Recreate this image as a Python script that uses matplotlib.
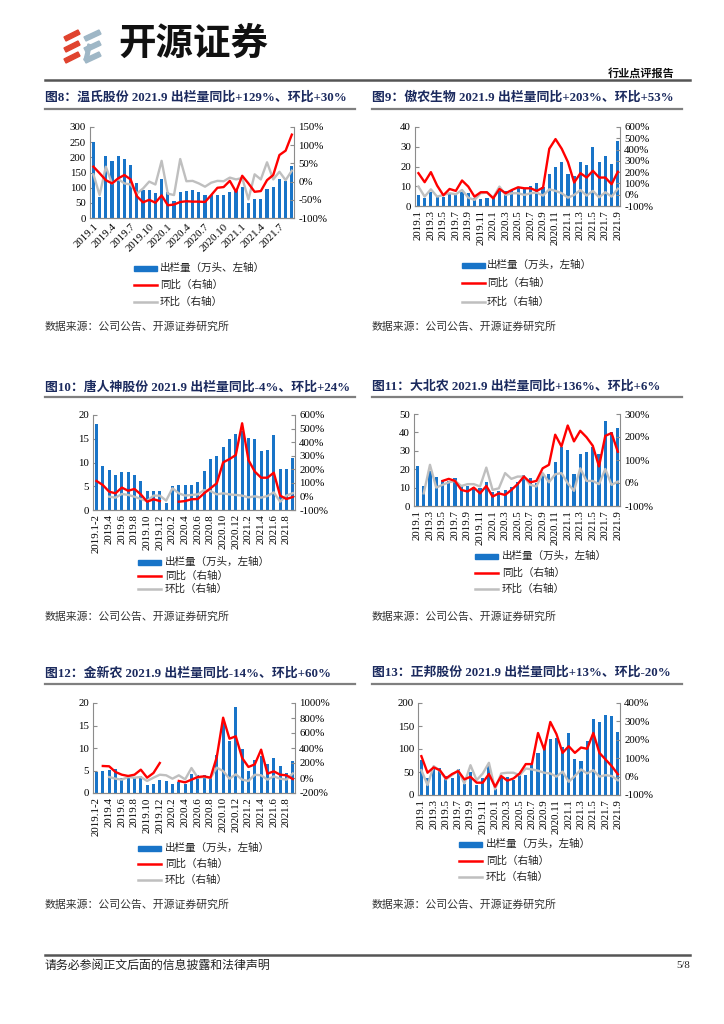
import numpy as np
import matplotlib
matplotlib.use("Agg")
import matplotlib.pyplot as plt
from matplotlib.patches import Rectangle, Polygon
from matplotlib.lines import Line2D

plt.rcParams['font.family'] = ['Liberation Serif', 'Noto Sans CJK SC']
plt.rcParams['axes.unicode_minus'] = False

W, H = 724, 1024
NAVY = '#1B2A5E'
BAR = '#1874C8'
RED = '#FF0000'
GRAY = '#BFBFBF'
AX = '#8C8C8C'
nan = np.nan

# ---------------- categories ----------------
MONTHS_33 = ['2019.1', '2019.2', '2019.3', '2019.4', '2019.5', '2019.6', '2019.7', '2019.8', '2019.9',
             '2019.10', '2019.11', '2019.12', '2020.1', '2020.2', '2020.3', '2020.4', '2020.5', '2020.6',
             '2020.7', '2020.8', '2020.9', '2020.10', '2020.11', '2020.12', '2021.1', '2021.2', '2021.3',
             '2021.4', '2021.5', '2021.6', '2021.7', '2021.8', '2021.9']
MONTHS_32 = ['2019.1-2', '2019.3', '2019.4', '2019.5', '2019.6', '2019.7', '2019.8', '2019.9',
             '2019.10', '2019.11', '2019.12', '2020.1', '2020.2', '2020.3', '2020.4', '2020.5', '2020.6',
             '2020.7', '2020.8', '2020.9', '2020.10', '2020.11', '2020.12', '2021.1', '2021.2', '2021.3',
             '2021.4', '2021.5', '2021.6', '2021.7', '2021.8', '2021.9']

# ---------------- 图8 温氏股份 ----------------
wens_out = [252, 70, 203, 188, 205, 196, 175, 116, 92, 92, 84, 128, 86, 55, 86, 88, 92, 86, 75, 75, 75,
            75, 86, 92, 102, 51, 61, 64, 94, 103, 128, 123, 172]
wens_yoy = [41, 23, 4, -5, 9, 18, 6, -40, -57, -50, -58, -38, -65, -63, -56, -54, -55, -55, -56, -37, -17,
            -15, 2, -28, 16, -5, -28, -26, 4, 18, 73, 85, 129]
wens_mom = [20, -37, 41, -5, 7, -5, -8, -33, -19, 0, -8, 57, -33, -37, 62, 1, 2, -5, -14, -3, 2, 1, 11, 6,
            10, -49, 20, 6, 53, 6, 27, 4, 30]
wens_ticks = ['2019.1', '2019.4', '2019.7', '2019.10', '2020.1', '2020.4', '2020.7', '2020.10',
              '2021.1', '2021.4', '2021.7']

# ---------------- 图9 傲农生物 ----------------
aonong_out = [5.6, 4.2, 7.0, 4.4, 4.7, 6.0, 6.1, 7.3, 6.4, 3.9, 3.4, 4.2, 4.6, 7.6, 7.6, 8.1, 9.0, 9.0,
              10.2, 11.5, 9.6, 16.0, 20.0, 22.2, 16.0, 15.0, 22.5, 20.8, 29.7, 22.2, 25.4, 21.4, 32.7]
aonong_yoy = [191, 111, 200, 81, -5, 51, 34, 126, 72, -17, 22, 22, -32, 51, 13, 42, 66, 57, 57, 34, 63,
              407, 493, 407, 289, 108, 191, 152, 212, 152, 152, 93, 203]
aonong_mom = [72, -17, 48, -17, -2, 13, 4, 42, -26, -46, 13, 19, -26, 72, -2, 13, 13, -2, 13, 19, -8,
              48, 34, 13, -26, -2, 42, -8, 34, -23, 22, -17, 53]
aonong_ticks = MONTHS_33[::2]

# ---------------- 图10 唐人神 ----------------
trs_out = [18.2, 9.2, 8.4, 7.4, 7.9, 8.1, 7.4, 6.1, 3.9, 4.1, 4.1, 1.5, 5.1, 5.3, 5.3, 5.3, 5.8, 8.2,
           10.7, 11.4, 13.3, 14.9, 16.1, 16.6, 15.2, 14.9, 12.5, 12.6, 15.8, 8.7, 8.7, 10.9]
trs_yoy = [114, 84, 35, 23, 65, 42, 55, 15, -39, -21, -34, nan, nan, -39, -34, -21, -19, 23, 60, 97,
           251, 275, 305, 539, 268, 183, 138, 138, 175, 6, -19, -4]
trs_mom = [nan, nan, -2, -9, 18, 11, -2, -19, -34, 6, 6, -31, 60, 23, 6, 11, 15, 47, 40, 15, 23, 15,
           11, 6, -7, 1, -9, 3, 30, -39, 6, 24]
trs_ticks = MONTHS_32[::2]

# ---------------- 图11 大北农 ----------------
dbn_out = [22, 11, 19, 15.5, 14, 13.5, 15, 11.5, 11, 10.5, 9.6, 12.9, 7.8, 8.2, 8.7, 10.2, 13.3, 16.9,
           15.1, 12.4, 16.9, 17.3, 23.8, 32, 30.5, 17.2, 28.2, 29.3, 32.2, 28.5, 46, 40, 42.5]
dbn_yoy = [nan, nan, nan, nan, 9, 18, 9, -30, -37, -20, -45, -13, -59, -45, -52, -30, -5, 28, 3, 9, 64,
           79, 210, 159, 250, 181, 227, 199, 162, 72, 205, 217, 136]
dbn_mom = [nan, -45, 79, -20, -8, 3, 9, -13, -5, -5, -15, 67, -30, -23, 43, 18, 28, 28, -8, -15, 43, 3,
           38, 43, -1, -34, 64, 9, 9, -5, 61, -8, 6]
dbn_ticks = MONTHS_33[::2]

# ---------------- 图12 金新农 ----------------
jxn_out = [4.7, 4.8, 5.2, 5.3, 3.4, 3.6, 3.4, 3.7, 1.7, 2.1, 2.8, 2.7, 1.9, 2.5, 1.9, 4.3, 3.9, 4.1,
           3.6, 8.4, 15.8, 11.5, 19.1, 9.7, 4.8, 7.3, 8.3, 6.5, 7.8, 5.9, 4.4, 7.1]
jxn_yoy = [nan, 160, 156, 80, 44, 27, 44, 111, 4, 67, 200, nan, nan, -40, -58, -22, 13, 22, 4, 280,
           804, 524, 556, 267, 147, 182, 378, 58, 89, 44, 36, -14]
jxn_mom = [nan, nan, 13, -9, -22, 13, 4, 13, -40, 4, 44, 36, -9, 36, -18, 133, 4, 13, 0, 138, 93, -9,
           49, -22, -40, 44, 36, -22, 22, -9, -22, 60]
jxn_ticks = MONTHS_32[::2]

# ---------------- 图13 正邦股份 ----------------
zb_out = [77, 36, 58, 58, 41, 36, 56, 25, 51, 22, 36, 65, 12, 36, 40, 33, 47, 43, 70, 92, 106, 121, 124,
          105, 134, 79, 74, 118, 166, 159, 173, 171, 137]
zb_yoy = [111, 21, 50, 35, -10, 14, 30, -15, -1, -33, -33, 14, -55, 3, -22, -10, 17, 68, 68, 237, 147,
          297, 231, 129, 165, 129, 158, 151, 237, 129, 93, 57, 13]
zb_mom = [35, -46, 57, 32, -15, 8, 35, -37, 62, -19, 17, 75, -69, 17, 21, 21, 8, 44, 39, 32, 21, 17, 0,
          27, -28, 3, 39, 17, 35, 0, 8, 3, -20]
zb_ticks = MONTHS_33[::2]

LEG_BAR = '出栏量（万头，左轴）'
LEG_BAR8 = '出栏量（万头、左轴）'
LEG_YOY = '同比（右轴）'
LEG_MOM = '环比（右轴）'
SOURCE = '数据来源：公司公告、开源证券研究所'

fig = plt.figure(figsize=(W / 100, H / 100), dpi=100)


def fx(x):
    return x / W


def fy(y):
    return 1 - y / H


def hline(x0, x1, y, color, lw):
    fig.add_artist(Line2D([fx(x0), fx(x1)], [fy(y), fy(y)], color=color, lw=lw, transform=fig.transFigure))


def panel(box, title, tx, ty, cats, ticks, bars, yoy, mom, lylim, lystep, rylim, rystep, rot,
          leg_x, leg_rows, text_x, bar_label, line_y, src_y):
    l, r, t, b = box
    ax = fig.add_axes([fx(l), fy(b), (r - l) / W, (b - t) / H])
    n = len(cats)
    x = np.arange(n)
    ax.bar(x, bars, width=0.5, color=BAR, zorder=2)
    ax.set_xlim(-0.55, n - 0.65)
    ax.set_ylim(*lylim)
    ax.set_yticks(np.arange(lylim[0], lylim[1] + 0.001, lystep))
    ax2 = ax.twinx()
    ax2.plot(x, np.array(mom, float), color=GRAY, lw=1.7, zorder=3)
    ax2.plot(x, np.array(yoy, float), color=RED, lw=1.7, zorder=4)
    ax2.set_ylim(*rylim)
    rt = np.arange(rylim[0], rylim[1] + 0.001, rystep)
    ax2.set_yticks(rt)
    ax2.set_yticklabels(['%d%%' % v for v in rt])
    idx = [cats.index(c) for c in ticks]
    ax.set_xticks(idx)
    if rot == 45:
        ax.set_xticklabels(ticks, rotation=45, ha='right', rotation_mode='anchor')
    else:
        ax.set_xticklabels(ticks, rotation=90, ha='center', va='top')
    for a in (ax, ax2):
        a.spines['top'].set_visible(False)
        for s in ('left', 'right', 'bottom'):
            a.spines[s].set_color(AX)
            a.spines[s].set_linewidth(0.8)
        a.tick_params(axis='y', direction='in', length=3, width=0.8, color=AX, labelsize=7.8, pad=3)
    ax.tick_params(axis='x', length=0, labelsize=7.8, pad=3)
    ax2.spines['left'].set_visible(False)
    ax.spines['right'].set_visible(False)
    # title
    fig.text(fx(tx), fy(ty), title, fontsize=9.3, fontweight='bold', color=NAVY, ha='left', va='center')
    hline(tx, tx + 310, line_y, '#7F7F7F', 1.6)
    # legend
    y0, y1, y2 = leg_rows
    fig.add_artist(Rectangle((fx(leg_x), fy(y0 + 2.5)), 23 / W, 5 / H, color=BAR, transform=fig.transFigure))
    fig.add_artist(Line2D([fx(leg_x), fx(leg_x + 23)], [fy(y1), fy(y1)], color=RED, lw=1.8,
                          transform=fig.transFigure))
    fig.add_artist(Line2D([fx(leg_x), fx(leg_x + 23)], [fy(y2), fy(y2)], color=GRAY, lw=1.8,
                          transform=fig.transFigure))
    for yy, s in zip(leg_rows, (bar_label, LEG_YOY, LEG_MOM)):
        fig.text(fx(text_x), fy(yy), s, fontsize=7.6, color='#222222', ha='left', va='center')
    fig.text(fx(tx), fy(src_y), SOURCE, fontsize=7.8, color='#333333', ha='left', va='center')
    return ax


panel((90, 294, 127, 218), '图8：温氏股份 2021.9 出栏量同比+129%、环比+30%', 45, 97,
      MONTHS_33, wens_ticks, wens_out, wens_yoy, wens_mom, (0, 300), 50, (-100, 150), 50, 45,
      134, (268, 285, 302), 160, LEG_BAR8, 109, 327)
panel((415, 620, 127, 206), '图9：傲农生物 2021.9 出栏量同比+203%、环比+53%', 372, 97,
      MONTHS_33, aonong_ticks, aonong_out, aonong_yoy, aonong_mom, (0, 40), 10, (-100, 600), 100, 90,
      462, (265, 283, 302), 487, LEG_BAR, 109, 327)
panel((93, 295, 415, 510), '图10：唐人神股份 2021.9 出栏量同比-4%、环比+24%', 45, 387,
      MONTHS_32, trs_ticks, trs_out, trs_yoy, trs_mom, (0, 20), 5, (-100, 600), 100, 90,
      138, (562, 576, 589), 165, LEG_BAR, 397, 617)
panel((414, 620, 414, 506), '图11：大北农 2021.9 出栏量同比+136%、环比+6%', 372, 387,
      MONTHS_33, dbn_ticks, dbn_out, dbn_yoy, dbn_mom, (0, 50), 10, (-100, 300), 100, 90,
      475, (556, 573, 589), 502, LEG_BAR, 397, 617)
panel((93, 295, 703, 793), '图12：金新农 2021.9 出栏量同比-14%、环比+60%', 45, 673,
      MONTHS_32, jxn_ticks, jxn_out, jxn_yoy, jxn_mom, (0, 20), 5, (-200, 1000), 200, 90,
      138, (848, 864, 880), 165, LEG_BAR, 684, 905)
panel((418, 620, 703, 795), '图13：正邦股份 2021.9 出栏量同比+13%、环比-20%', 372, 673,
      MONTHS_33, zb_ticks, zb_out, zb_yoy, zb_mom, (0, 200), 50, (-100, 400), 100, 90,
      459, (844, 861, 877), 486, LEG_BAR, 684, 905)

# ---------------- header ----------------
for i in range(3):
    y = 28 + i * 11
    fig.add_artist(Polygon([(fx(64), fy(y + 9)), (fx(78), fy(y + 2)), (fx(80), fy(y + 6)), (fx(66), fy(y + 13))],
                           closed=True, color='#E0432E', transform=fig.transFigure))
    fig.add_artist(Polygon([(fx(84), fy(y + 9)), (fx(99), fy(y + 2)), (fx(101), fy(y + 6)), (fx(86), fy(y + 13))],
                           closed=True, color='#9FB7C6', transform=fig.transFigure))
fig.add_artist(Polygon([(fx(84), fy(60)), (fx(88), fy(44)), (fx(91), fy(45)), (fx(88), fy(61))],
                       closed=True, color='#9FB7C6', transform=fig.transFigure))
fig.text(fx(118), fy(43), '开源证券', fontsize=27, fontweight='bold', color='#111111',
         family=['Noto Sans CJK SC'], ha='left', va='center')
fig.text(fx(675), fy(73), '行业点评报告', fontsize=8, fontweight='bold', color='#111111', ha='right', va='center')
hline(45, 690, 80, '#555555', 1.8)

# ---------------- footer ----------------
hline(45, 690, 955, '#555555', 1.8)
fig.text(fx(45), fy(966), '请务必参阅正文后面的信息披露和法律声明', fontsize=8.6, color='#222222', ha='left', va='center')
fig.text(fx(690), fy(966), '5/8', fontsize=7.8, color='#222222', ha='right', va='center')

fig.savefig('out.png', dpi=100)
